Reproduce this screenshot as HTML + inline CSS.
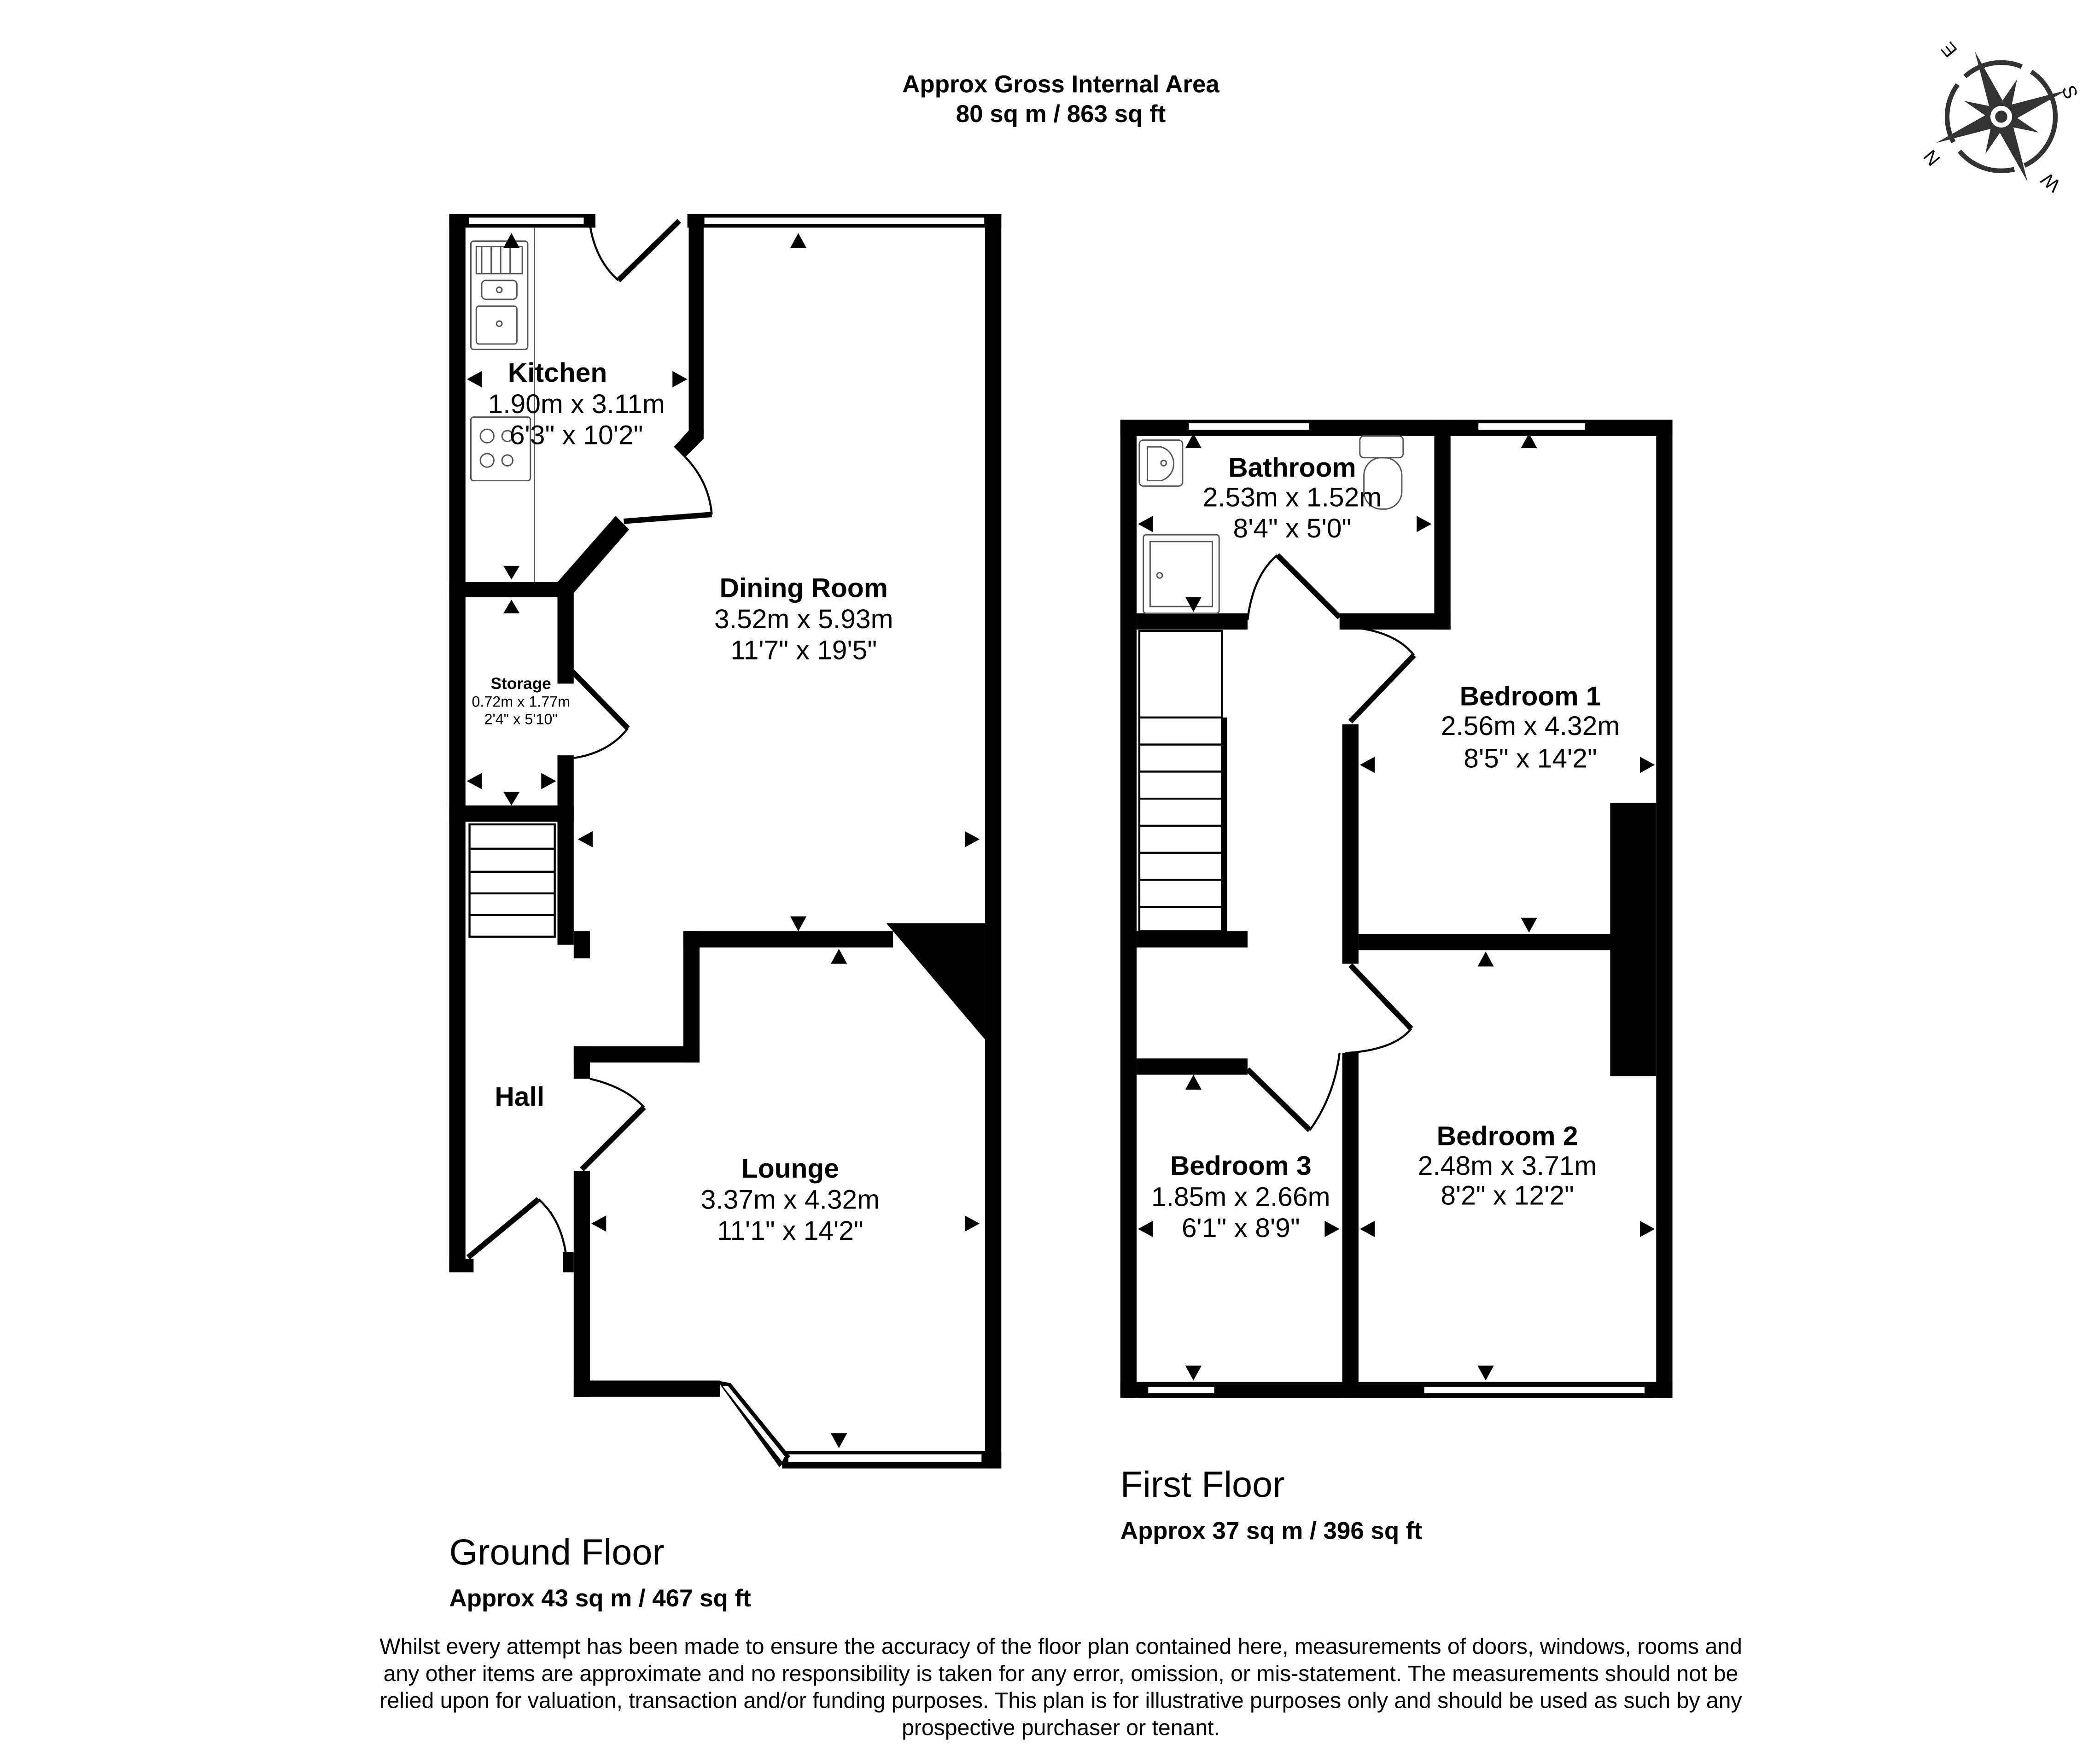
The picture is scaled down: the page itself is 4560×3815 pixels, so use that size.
<!DOCTYPE html>
<html><head><meta charset="utf-8"><style>
html,body{margin:0;padding:0;background:#fff}
svg{display:block}
text{font-family:"Liberation Sans",Arial,sans-serif;fill:#000}
.b{font-weight:bold}
</style></head><body>
<svg width="4560" height="3815" viewBox="0 0 1552 1298" xmlns="http://www.w3.org/2000/svg">
<rect width="1552" height="1298" fill="#fff"/>

<g fill="#000">
<rect x="332" y="158" width="12" height="782"/>
<rect x="332" y="930" width="18" height="10"/>
<rect x="332" y="158" width="108" height="10"/>
<rect x="508" y="158" width="232" height="10"/>
<rect x="728" y="158" width="12" height="927"/>
<rect x="509" y="158" width="11" height="162"/>
<polygon points="509,318 520,318 520,324 506,338 498,330"/>
<polygon points="455,381 465,391 424,438 412,430"/>
<rect x="412" y="430" width="12" height="75"/>
<rect x="332" y="430" width="90" height="11"/>
<rect x="332" y="595" width="92" height="12"/>
<rect x="412" y="558" width="12" height="140"/>
<rect x="424" y="688" width="12" height="20"/>
<rect x="505" y="688" width="155" height="12"/>
<polygon points="655,682 728,682 728,768"/>
<rect x="505" y="688" width="12" height="97"/>
<rect x="424" y="773" width="93" height="12"/>
<rect x="424" y="773" width="12" height="24"/>
<rect x="424" y="865" width="12" height="167"/>
<rect x="424" y="1020" width="108" height="12"/>
<rect x="578" y="1072" width="162" height="13"/>
<rect x="416" y="925" width="8" height="15"/>
</g>
<g fill="#fff" stroke="#000" stroke-width="1.2">
<rect x="346" y="160" width="86" height="6"/>
<rect x="520" y="160" width="208" height="6"/>
<rect x="582" y="1074" width="144" height="7"/>
</g>
<polygon points="530,1020 540,1022 584,1076 576,1084" fill="#000"/>
<polygon points="534,1024 538,1024 580,1076 578,1080" fill="#fff"/>
<g fill="none" stroke="#000">
<line x1="502" y1="163" x2="457" y2="207" stroke-width="4"/>
<path d="M436,166 Q440,192 457,207" stroke-width="1.5"/>
<line x1="526" y1="380" x2="461" y2="385" stroke-width="4"/>
<path d="M503,334 Q524,354 526,380" stroke-width="1.5"/>
<line x1="420" y1="493" x2="464" y2="538" stroke-width="4"/>
<path d="M464,538 Q450,556 424,560" stroke-width="1.5"/>
<path d="M436,797 Q462,803 476,818" stroke-width="1.5"/>
<line x1="476" y1="818" x2="430" y2="864" stroke-width="4"/>
<line x1="346" y1="929" x2="398" y2="886" stroke-width="4"/>
<path d="M398,886 Q414,900 418,925" stroke-width="1.5"/>
</g>
<g fill="none" stroke="#000" stroke-width="1.5">
<rect x="347" y="609" width="63" height="83"/>
<line x1="347" y1="627" x2="410" y2="627"/>
<line x1="347" y1="644" x2="410" y2="644"/>
<line x1="347" y1="660" x2="410" y2="660"/>
<line x1="347" y1="676" x2="410" y2="676"/>
</g>
<g fill="none" stroke="#555" stroke-width="1">
<line x1="395" y1="168" x2="395" y2="430"/>
<rect x="348" y="178" width="42" height="80" rx="2"/>
<line x1="356" y1="182" x2="356" y2="202"/><line x1="363" y1="182" x2="363" y2="202"/>
<line x1="370" y1="182" x2="370" y2="202"/><line x1="377" y1="182" x2="377" y2="202"/>
<rect x="352" y="182" width="34" height="20"/>
<rect x="356" y="207" width="26" height="14" rx="3"/>
<rect x="352" y="226" width="30" height="28" rx="2"/>
<circle cx="369" cy="214" r="2"/><circle cx="369" cy="239" r="2"/>
<rect x="348" y="308" width="44" height="47" rx="2"/>
<circle cx="360" cy="322" r="5"/><circle cx="375" cy="322" r="4"/>
<circle cx="360" cy="340" r="5"/><circle cx="375" cy="340" r="4"/>
</g>
<g fill="#000">
<polygon points="372,183 384,183 378,172"/>
<polygon points="584,183 596,183 590,172"/>
<polygon points="345,280 356,274 356,286"/>
<polygon points="508,280 497,274 497,286"/>
<polygon points="372,418 384,418 378,428"/>
<polygon points="372,453 384,453 378,443"/>
<polygon points="345,577 356,571 356,583"/>
<polygon points="372,585 384,585 378,595"/>
<polygon points="411,577 400,571 400,583"/>
<polygon points="427,620 438,614 438,626"/>
<polygon points="724,620 713,614 713,626"/>
<polygon points="584,677 596,677 590,688"/>
<polygon points="614,712 626,712 620,701"/>
<polygon points="437,904 448,898 448,910"/>
<polygon points="724,904 713,898 713,910"/>
<polygon points="614,1059 626,1059 620,1070"/>
</g>
<g text-anchor="middle" font-size="20">
<text x="412" y="282" class="b">Kitchen</text>
<text x="426" y="305">1.90m x 3.11m</text>
<text x="426" y="328">6'3" x 10'2"</text>
<text x="594" y="441" class="b">Dining Room</text>
<text x="594" y="464">3.52m x 5.93m</text>
<text x="594" y="487">11'7" x 19'5"</text>
<text x="385" y="509" font-size="12" class="b">Storage</text>
<text x="385" y="522" font-size="11">0.72m x 1.77m</text>
<text x="385" y="535" font-size="11">2'4" x 5'10"</text>
<text x="384" y="817" class="b">Hall</text>
<text x="584" y="870" class="b">Lounge</text>
<text x="584" y="893">3.37m x 4.32m</text>
<text x="584" y="916">11'1" x 14'2"</text>
</g>

<g fill="#000">
<rect x="828" y="310" width="408" height="12"/>
<rect x="828" y="310" width="12" height="723"/>
<rect x="1224" y="310" width="12" height="723"/>
<rect x="828" y="1021" width="408" height="12"/>
<rect x="1060" y="310" width="12" height="155"/>
<rect x="840" y="453" width="82" height="12"/>
<rect x="990" y="453" width="82" height="12"/>
<rect x="992" y="535" width="12" height="177"/>
<rect x="1004" y="690" width="188" height="12"/>
<rect x="1190" y="593" width="34" height="202"/>
<rect x="840" y="688" width="82" height="12"/>
<rect x="840" y="782" width="82" height="12"/>
<rect x="992" y="778" width="12" height="255"/>
<rect x="903" y="530" width="4" height="160"/>
</g>
<g fill="#fff" stroke="#000" stroke-width="1.2">
<rect x="878" y="312" width="90" height="6"/>
<rect x="1092" y="312" width="80" height="6"/>
<rect x="848" y="1024" width="50" height="6"/>
<rect x="1052" y="1024" width="164" height="6"/>
</g>
<g fill="none" stroke="#000">
<path d="M922,458 Q926,425 944,410" stroke-width="1.5"/>
<line x1="944" y1="410" x2="990" y2="456" stroke-width="4"/>
<path d="M994,463 Q1030,465 1045,484" stroke-width="1.5"/>
<line x1="1045" y1="484" x2="998" y2="533" stroke-width="4"/>
<line x1="998" y1="713" x2="1043" y2="760" stroke-width="4"/>
<path d="M1043,760 Q1030,776 994,778" stroke-width="1.5"/>
<line x1="922" y1="790" x2="968" y2="835" stroke-width="4"/>
<path d="M968,835 Q986,810 990,778" stroke-width="1.5"/>
</g>
<g fill="none" stroke="#000" stroke-width="1.5">
<rect x="842" y="466" width="61" height="222"/>
<line x1="842" y1="530" x2="903" y2="530"/>
<line x1="842" y1="550" x2="903" y2="550"/>
<line x1="842" y1="570" x2="903" y2="570"/>
<line x1="842" y1="590" x2="903" y2="590"/>
<line x1="842" y1="610" x2="903" y2="610"/>
<line x1="842" y1="630" x2="903" y2="630"/>
<line x1="842" y1="650" x2="903" y2="650"/>
<line x1="842" y1="670" x2="903" y2="670"/>
</g>
<g fill="none" stroke="#555" stroke-width="1">
<rect x="842" y="325" width="32" height="34" rx="3"/>
<path d="M848,330 h10 a13,13 0 0 1 0,25 h-10 z"/>
<circle cx="860" cy="342" r="2"/>
<rect x="1005" y="322" width="32" height="16" rx="3"/>
<rect x="1008" y="338" width="28" height="38" rx="13"/>
<rect x="845" y="395" width="56" height="58" rx="2"/>
<rect x="850" y="400" width="46" height="48"/>
<circle cx="857" cy="425" r="2"/>
</g>
<g fill="#000">
<polygon points="876,331 888,331 882,320"/>
<polygon points="1124,331 1136,331 1130,320"/>
<polygon points="841,387 852,381 852,393"/>
<polygon points="1058,387 1047,381 1047,393"/>
<polygon points="876,441 888,441 882,452"/>
<polygon points="1005,565 1016,559 1016,571"/>
<polygon points="1223,565 1212,559 1212,571"/>
<polygon points="1124,678 1136,678 1130,689"/>
<polygon points="1092,714 1104,714 1098,703"/>
<polygon points="876,805 888,805 882,794"/>
<polygon points="841,908 852,902 852,914"/>
<polygon points="990,908 979,902 979,914"/>
<polygon points="876,1009 888,1009 882,1020"/>
<polygon points="1005,908 1016,902 1016,914"/>
<polygon points="1223,908 1212,902 1212,914"/>
<polygon points="1092,1009 1104,1009 1098,1020"/>
</g>
<g text-anchor="middle" font-size="20">
<text x="955" y="352" class="b">Bathroom</text>
<text x="955" y="374">2.53m x 1.52m</text>
<text x="955" y="397">8'4" x 5'0"</text>
<text x="1131" y="521" class="b">Bedroom 1</text>
<text x="1131" y="543">2.56m x 4.32m</text>
<text x="1131" y="567">8'5" x 14'2"</text>
<text x="1114" y="846" class="b">Bedroom 2</text>
<text x="1114" y="868">2.48m x 3.71m</text>
<text x="1114" y="890">8'2" x 12'2"</text>
<text x="917" y="868" class="b">Bedroom 3</text>
<text x="917" y="891">1.85m x 2.66m</text>
<text x="917" y="914">6'1" x 8'9"</text>
</g>

<g font-size="18">
<text x="784" y="68" text-anchor="middle" class="b">Approx Gross Internal Area</text>
<text x="784" y="90" text-anchor="middle" class="b">80 sq m / 863 sq ft</text>
<text x="332" y="1156" font-size="27">Ground Floor</text>
<text x="332" y="1187" class="b">Approx 43 sq m / 467 sq ft</text>
<text x="828" y="1106" font-size="27">First Floor</text>
<text x="828" y="1137" class="b">Approx 37 sq m / 396 sq ft</text>
</g>
<g font-size="16.4" text-anchor="middle">
<text x="784" y="1222">Whilst every attempt has been made to ensure the accuracy of the floor plan contained here, measurements of doors, windows, rooms and</text>
<text x="784" y="1242">any other items are approximate and no responsibility is taken for any error, omission, or mis-statement. The measurements should not be</text>
<text x="784" y="1262">relied upon for valuation, transaction and/or funding purposes. This plan is for illustrative purposes only and should be used as such by any</text>
<text x="784" y="1282">prospective purchaser or tenant.</text>
</g>

<g transform="translate(1479,86)">
<circle r="40" fill="none" stroke="#333" stroke-width="3.5" stroke-dasharray="45 8"/>
<g transform="rotate(-22)">
<polygon points="0,-52 6,-6 0,0 -6,-6" fill="#333"/>
<polygon points="0,52 6,6 0,0 -6,6" fill="#333"/>
<polygon points="-52,0 -6,6 0,0 -6,-6" fill="#333"/>
<polygon points="52,0 6,6 0,0 6,-6" fill="#333"/>
</g>
<g transform="rotate(23)">
<polygon points="0,-30 5,-5 -5,-5" fill="#333"/>
<polygon points="0,30 5,5 -5,5" fill="#333"/>
<polygon points="-30,0 -5,5 -5,-5" fill="#333"/>
<polygon points="30,0 5,5 5,-5" fill="#333"/>
</g>
<circle r="9" fill="#fff" stroke="#333" stroke-width="2"/>
<circle r="4.5" fill="#333"/>
<text x="-38" y="-46" font-size="14" fill="#333" transform="rotate(-130,-38,-50)" text-anchor="middle">E</text>
<text x="50" y="-14" font-size="14" fill="#333" transform="rotate(70,50,-18)" text-anchor="middle">S</text>
<text x="37" y="52" font-size="14" fill="#333" transform="rotate(-140,37,48)" text-anchor="middle">W</text>
<text x="-52" y="35" font-size="14" fill="#333" transform="rotate(50,-52,31)" text-anchor="middle">N</text>
</g>
</svg>
</body></html>
